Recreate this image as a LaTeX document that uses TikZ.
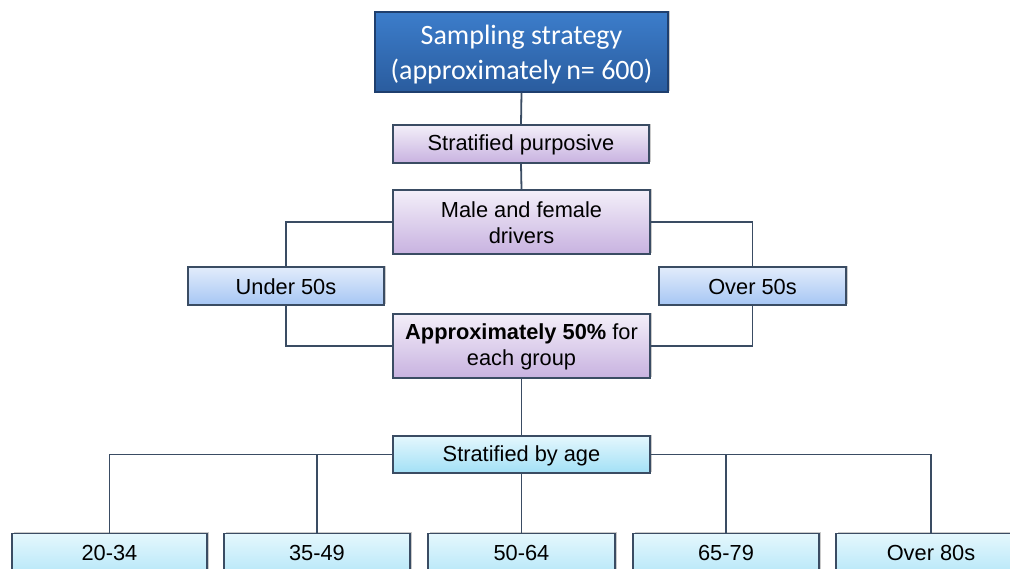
\documentclass[tikz,border=0pt]{standalone}
\usepackage{fontspec}
\setmainfont{Liberation Sans}
\newfontfamily\calib{Carlito}
\usetikzlibrary{shadows}
\definecolor{linec}{HTML}{3A4C63}
\definecolor{topT}{HTML}{3C7DCB}
\definecolor{topB}{HTML}{2A5C9E}
\definecolor{topD}{HTML}{1F3F6E}
\definecolor{purT}{HTML}{F3EFF9}
\definecolor{purB}{HTML}{C8B2E0}
\definecolor{bluT}{HTML}{E2ECFB}
\definecolor{bluB}{HTML}{A6C6F4}
\definecolor{cyaT}{HTML}{E4F7FD}
\definecolor{cyaB}{HTML}{A2E0F6}
\tikzset{
  box/.style={draw=linec, line width=1.3pt, rectangle, inner sep=0pt,
    drop shadow={shadow xshift=1.5pt, shadow yshift=1.5pt, opacity=0.35, fill=black!60}},
  lbl/.style={align=center, inner sep=0pt, yshift=-1pt, font=\fontsize{21.8}{26}\selectfont},
  txt/.style={label={[lbl]center:#1}},
  toplbl/.style={lbl, text=white, font=\calib\fontsize{28}{35}\selectfont, yshift=-2pt},
  topbox/.style={box, draw=topD, top color=topT, bottom color=topB},
  purbox/.style={box, top color=purT, bottom color=purB},
  blubox/.style={box, top color=bluT, bottom color=bluB},
  cyabox/.style={box, top color=cyaT, bottom color=cyaB},
  conn/.style={draw=linec, line width=1.8pt}
}
\begin{document}
\begin{tikzpicture}[x=1pt,y=-1pt]
\useasboundingbox (0,0) rectangle (1010,568);
\clip (0,0) rectangle (1010,568);
\node[topbox, minimum width=293pt, minimum height=80pt,
  label={[toplbl]center:Sampling strategy\\(approximately\,n= 600)}] (top) at (521.5,52) {};
\node[purbox, minimum width=256pt, minimum height=38pt, txt={Stratified purposive}] (sp) at (521,144) {};
\node[purbox, minimum width=257pt, minimum height=64pt, txt={Male and female\\drivers}] (mf) at (521.5,222) {};
\node[blubox, minimum width=196pt, minimum height=38pt, txt={Under 50s}] (u50) at (286,286) {};
\node[blubox, minimum width=187pt, minimum height=38pt, txt={Over 50s}] (o50) at (752.5,286) {};
\node[purbox, minimum width=257pt, minimum height=64pt, txt={\textbf{Approximately 50\%} for\\each group}] (ap) at (521.5,346) {};
\node[cyabox, minimum width=257pt, minimum height=37pt, txt={Stratified by age}] (sa) at (521.5,454.5) {};
\node[cyabox, minimum width=195pt, minimum height=60pt, anchor=north] (a1) at (109.5,533) {};
\node[cyabox, minimum width=186pt, minimum height=60pt, anchor=north] (a2) at (317,533) {};
\node[cyabox, minimum width=187pt, minimum height=60pt, anchor=north] (a3) at (521.5,533) {};
\node[cyabox, minimum width=186pt, minimum height=60pt, anchor=north] (a4) at (726,533) {};
\node[cyabox, minimum width=190pt, minimum height=60pt, anchor=north] (a5) at (931,533) {};
\node[lbl] (t1) at (109.5,551.5) {20-34};
\node[lbl] (t2) at (317,551.5) {35-49};
\node[lbl] (t3) at (521.5,551.5) {50-64};
\node[lbl] (t4) at (726,551.5) {65-79};
\node[lbl] (t5) at (931,551.5) {Over 80s};
\draw[conn] (top.south) -- (sp.north);
\draw[conn] (sp.south) -- (mf.north);
\draw[conn] (mf.west) -| (u50.north);
\draw[conn] (u50.south) |- (ap.west);
\draw[conn] (mf.east) -| (o50.north);
\draw[conn] (o50.south) |- (ap.east);
\draw[conn] (ap.south) -- (sa.north);
\draw[conn] (sa.west) -| (a1.north);
\draw[conn] (sa.west) -| (a2.north);
\draw[conn] (sa.south) -- (a3.north);
\draw[conn] (sa.east) -| (a4.north);
\draw[conn] (sa.east) -| (a5.north);
\end{tikzpicture}
\end{document}
